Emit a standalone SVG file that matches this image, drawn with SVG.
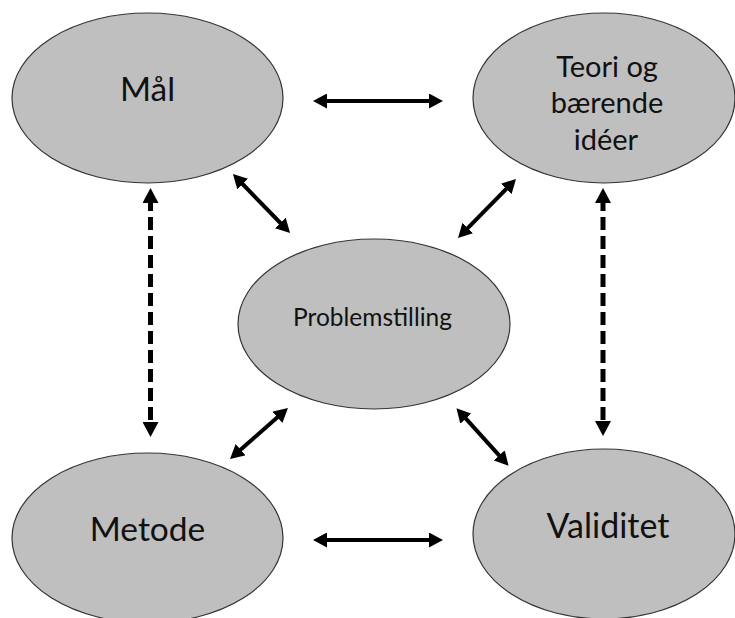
<svg xmlns="http://www.w3.org/2000/svg" width="735" height="618" viewBox="0 0 735 618">
<style>
.node ellipse{fill:#bfbfbf;stroke:#333333;stroke-width:1.2}
.node text{font-family:Lato,"Open Sans",sans-serif;fill:#111111;text-anchor:middle}
.conn line{stroke:#000000;stroke-width:4;fill:none;marker-start:url(#ah);marker-end:url(#ah)}
.conn line.dash{stroke-width:5;stroke-dasharray:13 6;marker-start:url(#ahd);marker-end:url(#ahd)}
</style>
<defs>
<marker id="ah" markerUnits="userSpaceOnUse" markerWidth="14" markerHeight="15" refX="5" refY="7.5" orient="auto-start-reverse" viewBox="0 0 14 15">
<path d="M0,0 L14,7.5 L0,15 z" fill="#000000"/>
</marker>
<marker id="ahd" markerUnits="userSpaceOnUse" markerWidth="15" markerHeight="16" refX="5" refY="8" orient="auto-start-reverse" viewBox="0 0 15 16">
<path d="M0,0 L15,8 L0,16 z" fill="#000000"/>
</marker>
</defs>
<rect width="735" height="618" fill="#ffffff"/>
<g id="maal" class="node">
<ellipse cx="147.5" cy="98" rx="135.5" ry="85"/>
<text x="147.5" y="101" font-size="33.5">Mål</text>
</g>
<g id="teori" class="node">
<ellipse cx="604" cy="98" rx="131" ry="85"/>
<text x="607" y="77" font-size="29">Teori og</text>
<text x="607" y="113" font-size="29">bærende</text>
<text x="606" y="150" font-size="29">idéer</text>
</g>
<g id="problemstilling" class="node">
<ellipse cx="374" cy="324" rx="136" ry="85"/>
<text x="372.5" y="326" font-size="24.5">Problemstilling</text>
</g>
<g id="metode" class="node">
<ellipse cx="147.5" cy="538" rx="135.5" ry="85"/>
<text x="147.5" y="541" font-size="33.5">Metode</text>
</g>
<g id="validitet" class="node">
<ellipse cx="604" cy="534" rx="131" ry="85"/>
<text x="608" y="538" font-size="34">Validitet</text>
</g>
<g id="connectors" class="conn">
<line x1="322" y1="101" x2="434" y2="101"/>
<line x1="322" y1="540" x2="434" y2="540"/>
<line class="dash" x1="150.5" y1="198" x2="150.5" y2="427"/>
<line class="dash" x1="603" y1="198" x2="603" y2="426"/>
<line x1="239.2" y1="180.5" x2="283.8" y2="226.5"/>
<line x1="509.7" y1="185.4" x2="464.3" y2="231.6"/>
<line x1="281.2" y1="414" x2="236.8" y2="453"/>
<line x1="462.5" y1="414.9" x2="502.5" y2="459.1"/>
</g>
</svg>
